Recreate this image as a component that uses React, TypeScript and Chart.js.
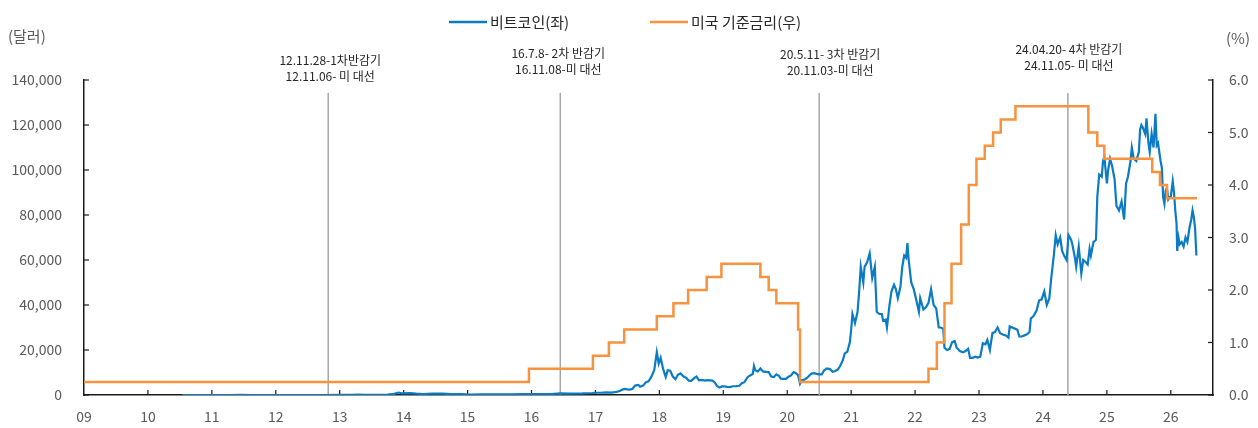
import { useEffect, useRef } from "react";
import { Chart, registerables } from "chart.js";

Chart.register(...registerables);

// ---------- data ----------
const yearTicks = [2009, 2010, 2011, 2012, 2013, 2014, 2015, 2016, 2017, 2018, 2019, 2020, 2021, 2022, 2023, 2024, 2025, 2026];

const btcDates = [
  2010.54, 2010.75, 2010.95, 2011.1, 2011.3, 2011.45, 2011.6, 2011.8, 2012.0, 2012.3, 2012.55, 2012.75,
  2013.0, 2013.2, 2013.28, 2013.4, 2013.6, 2013.75, 2013.85, 2013.92, 2013.97, 2014.1, 2014.2, 2014.3,
  2014.45, 2014.6, 2014.75, 2014.9, 2015.05, 2015.2, 2015.4, 2015.55, 2015.7, 2015.85, 2015.95, 2016.1,
  2016.3, 2016.45, 2016.6, 2016.8, 2016.95,
  2017.0, 2017.08, 2017.17, 2017.25, 2017.33, 2017.38, 2017.42, 2017.46, 2017.5, 2017.54, 2017.58, 2017.62,
  2017.67, 2017.7, 2017.75, 2017.79, 2017.83, 2017.87, 2017.92, 2017.96, 2017.99,
  2018.02, 2018.06, 2018.1, 2018.13, 2018.17, 2018.21, 2018.25, 2018.29, 2018.33, 2018.38, 2018.42, 2018.46,
  2018.5, 2018.54, 2018.58, 2018.62, 2018.67, 2018.71, 2018.75, 2018.79, 2018.83, 2018.87, 2018.9, 2018.94, 2018.98,
  2019.02, 2019.06, 2019.1, 2019.15, 2019.2, 2019.25, 2019.29, 2019.33, 2019.38, 2019.42, 2019.46, 2019.48,
  2019.5, 2019.54, 2019.58, 2019.62, 2019.67, 2019.71, 2019.75, 2019.79, 2019.83, 2019.87, 2019.9, 2019.94, 2019.98,
  2020.02, 2020.06, 2020.1, 2020.13, 2020.17, 2020.2, 2020.23, 2020.27, 2020.31, 2020.35, 2020.38, 2020.42,
  2020.46, 2020.5, 2020.54, 2020.58, 2020.62, 2020.67, 2020.71, 2020.75, 2020.79, 2020.83, 2020.87, 2020.9,
  2020.94, 2020.98,
  2021.0, 2021.02, 2021.06, 2021.1, 2021.13, 2021.15, 2021.19, 2021.21, 2021.25, 2021.29, 2021.33, 2021.37,
  2021.38, 2021.4, 2021.44, 2021.48, 2021.5, 2021.54, 2021.56, 2021.6, 2021.63, 2021.67, 2021.7, 2021.73,
  2021.77, 2021.8, 2021.83, 2021.86, 2021.88, 2021.9, 2021.94, 2021.98,
  2022.02, 2022.06, 2022.08, 2022.13, 2022.17, 2022.21, 2022.25, 2022.29, 2022.33, 2022.37, 2022.4, 2022.44,
  2022.46, 2022.5, 2022.54, 2022.58, 2022.62, 2022.65, 2022.7, 2022.75, 2022.79, 2022.83, 2022.86, 2022.9,
  2022.94, 2022.98,
  2023.02, 2023.06, 2023.1, 2023.13, 2023.17, 2023.21, 2023.25, 2023.29, 2023.33, 2023.38, 2023.42, 2023.46,
  2023.48, 2023.52, 2023.56, 2023.6, 2023.63, 2023.67, 2023.71, 2023.75, 2023.79, 2023.81, 2023.85, 2023.9,
  2023.94, 2023.98,
  2024.02, 2024.06, 2024.1, 2024.13, 2024.17, 2024.2, 2024.23, 2024.27, 2024.3, 2024.33, 2024.37, 2024.4,
  2024.44, 2024.46, 2024.5, 2024.52, 2024.56, 2024.6, 2024.63, 2024.67, 2024.7, 2024.73, 2024.75, 2024.79,
  2024.83, 2024.85, 2024.88, 2024.92, 2024.94, 2024.96,
  2025.0, 2025.02, 2025.05, 2025.08, 2025.12, 2025.15, 2025.19, 2025.23, 2025.27, 2025.3, 2025.33, 2025.37,
  2025.39, 2025.42, 2025.46, 2025.5, 2025.52, 2025.54, 2025.56, 2025.6, 2025.62, 2025.65, 2025.67, 2025.7,
  2025.73, 2025.76, 2025.78, 2025.8, 2025.82, 2025.84, 2025.86, 2025.88, 2025.9, 2025.92, 2025.94, 2025.96,
  2025.98,
  2026.0, 2026.03, 2026.05, 2026.07, 2026.09, 2026.1, 2026.12, 2026.14, 2026.17, 2026.2, 2026.23, 2026.26,
  2026.29, 2026.32, 2026.34, 2026.36, 2026.38, 2026.4,
];

const btcPrices = [
  0.06, 0.1, 0.3, 1, 3.5, 17, 10, 3, 5.5, 5, 9, 11,
  13.5, 47, 140, 115, 100, 135, 500, 1100, 750, 820, 600, 450,
  640, 580, 400, 370, 220, 270, 240, 285, 235, 380, 440, 400,
  450, 720, 600, 700, 900,
  1000, 1000, 1200, 1100, 1400, 1800, 2400, 2700, 2500, 2400, 2800, 4200,
  4500, 3700, 4300, 5700, 6100, 7800, 11000, 19000, 14000,
  16500, 11500, 8000, 11000, 10800, 8200, 7000, 9000, 9600, 8200, 7600, 6400,
  6300, 7400, 8200, 6500, 6700, 6400, 6600, 6500, 6400, 5500, 4000, 3300, 3800,
  3800, 3600, 3500, 3900, 3950, 4100, 5200, 5700, 7900, 8700, 9300, 12900,
  11000, 10500, 11800, 10500, 10300, 10200, 8200, 8000, 9200, 8500, 7300, 7200, 7200,
  8100, 8700, 10200, 9800, 8800, 5000, 6700, 6800, 7600, 8800, 9500, 9700,
  9400, 9200, 9200, 11000, 11800, 11500, 10300, 10700, 11300, 13000, 15500, 18500,
  19200, 23500,
  29000, 36000, 32000, 37000, 48000, 57000, 50000, 57000, 59000, 63000, 52000, 57000,
  50000, 37000, 36000, 36000, 33000, 33500, 30000, 40000, 46000, 49000, 47000, 43000,
  48000, 57000, 62000, 61000, 67500, 60000, 50000, 47000,
  42000, 37000, 43000, 38000, 39000, 41000, 47000, 40000, 38500, 30000, 30000, 29500,
  21000, 20000, 20500, 23500, 24000, 21000, 19500, 19000, 19500, 20500, 16500, 16500,
  17000, 16600,
  17000, 23000, 22500, 24500, 20000, 27500, 28000, 30000, 27500, 26800, 26500, 25500,
  30500, 30000, 29500, 29000, 26000, 26000, 26500, 27000, 28000, 34000, 35000, 37500,
  42000, 42500,
  46000, 40000, 43000, 52000, 62000, 71000, 67000, 70000, 64000, 62000, 60000, 71000,
  69000, 67000, 61000, 57000, 66000, 54000, 60000, 59000, 58000, 65000, 62000, 68000,
  69000, 88000, 98000, 97000, 104000, 106000,
  94000, 100000, 105000, 102000, 96000, 84000, 82000, 86000, 78000, 94000, 97000, 104000,
  110000, 105000, 104000, 108000, 118000, 120000, 119000, 116000, 123000, 112000, 108000, 116000,
  110000, 125000, 111000, 112000, 108000, 104000, 101000, 88000, 85000, 91000, 92000, 87000,
  88000,
  88000, 95000, 90000, 82000, 76000, 64000, 70000, 67000, 68000, 66000, 70000, 68000,
  74000, 78000, 82000, 79000, 74000, 62000,
];

// US policy rate (upper bound), value effective from date
const rateDates = [
  2009.0, 2015.96, 2016.96, 2017.21, 2017.45, 2017.96, 2018.22, 2018.45, 2018.74, 2018.97,
  2019.58, 2019.71, 2019.83, 2020.17, 2020.2, 2022.21, 2022.34, 2022.46, 2022.57, 2022.72,
  2022.84, 2022.96, 2023.09, 2023.22, 2023.34, 2023.57, 2024.71, 2024.85, 2024.96, 2025.71,
  2025.83, 2025.94, 2026.41,
];
const rateValues = [
  0.25, 0.5, 0.75, 1.0, 1.25, 1.5, 1.75, 2.0, 2.25, 2.5,
  2.25, 2.0, 1.75, 1.25, 0.25, 0.5, 1.0, 1.75, 2.5, 3.25,
  4.0, 4.5, 4.75, 5.0, 5.25, 5.5, 5.0, 4.75, 4.5, 4.25,
  4.0, 3.75, 3.75,
];

const markerDates = [2012.82, 2016.45, 2020.5, 2024.39];
const markerLine1 = ["12.11.28-1차반감기", "16.7.8- 2차 반감기", "20.5.11- 3차 반감기", "24.04.20- 4차 반감기"];
const markerLine2 = ["12.11.06- 미 대선", "16.11.08-미 대선", "20.11.03-미 대선", "24.11.05- 미 대선"];

const leftTicks = [0, 20000, 40000, 60000, 80000, 100000, 120000, 140000];
const rightTicks = [0, 1, 2, 3, 4, 5, 6];

const seriesNames = ["비트코인(좌)", "미국 기준금리(우)"];

// ---------- styles ----------
const BLUE = "#0B7BC3";
const ORANGE = "#F7923E";
const AXIS = "#1a1a1a";
const TICK_TEXT = "#595959";
const FONT = "'Noto Sans CJK KR', 'Noto Sans', sans-serif";
const labelOffsetX = [2, -2, 11, 1];
const labelTopY = [60, 53, 54, 49];
const MARKER_TOP = 93;

const overlay = {
  id: "overlay",
  beforeDatasetsDraw(chart: any) {
    const { ctx, chartArea, scales } = chart;
    ctx.save();
    ctx.strokeStyle = "#A6A6A6";
    ctx.lineWidth = 1.5;
    markerDates.forEach((d) => {
      const x = scales.x.getPixelForValue(d);
      ctx.beginPath();
      ctx.moveTo(x, MARKER_TOP);
      ctx.lineTo(x, chartArea.bottom);
      ctx.stroke();
    });

    // inward tick marks
    const left = chartArea.left;
    const right = chartArea.right;
    const bottom = chartArea.bottom;
    ctx.strokeStyle = AXIS;
    ctx.lineWidth = 1.2;
    leftTicks.forEach((v) => {
      const y = scales.y.getPixelForValue(v);
      ctx.beginPath();
      ctx.moveTo(left, y);
      ctx.lineTo(left + 5, y);
      ctx.stroke();
    });
    rightTicks.forEach((v) => {
      const y = scales.y1.getPixelForValue(v);
      ctx.beginPath();
      ctx.moveTo(right, y);
      ctx.lineTo(right - 5, y);
      ctx.stroke();
    });
    yearTicks.forEach((v) => {
      const x = scales.x.getPixelForValue(v);
      if (x < left + 1) return;
      ctx.beginPath();
      ctx.moveTo(x, bottom);
      ctx.lineTo(x, bottom - 5);
      ctx.stroke();
    });
    ctx.restore();
  },
  afterDraw(chart: any) {
    const { ctx, scales } = chart;
    ctx.save();
    // annotations
    ctx.fillStyle = "#262626";
    ctx.font = `12px ${FONT}`;
    ctx.textAlign = "center";
    ctx.textBaseline = "middle";
    markerDates.forEach((d, i) => {
      const x = scales.x.getPixelForValue(d) + labelOffsetX[i];
      ctx.fillText(markerLine1[i], x, labelTopY[i]);
      ctx.fillText(markerLine2[i], x, labelTopY[i] + 16.5);
    });

    // axis titles
    ctx.fillStyle = TICK_TEXT;
    ctx.font = `15px ${FONT}`;
    ctx.textAlign = "left";
    ctx.fillText("(달러)", 8, 36);
    ctx.fillText("(%)", 1226, 38);

    // legend
    const legend = [
      { color: BLUE, x: 449, text: seriesNames[0] },
      { color: ORANGE, x: 650, text: seriesNames[1] },
    ];
    legend.forEach((l) => {
      ctx.strokeStyle = l.color;
      ctx.lineWidth = 2.5;
      ctx.beginPath();
      ctx.moveTo(l.x, 22);
      ctx.lineTo(l.x + 38, 22);
      ctx.stroke();
      ctx.fillStyle = "#262626";
      ctx.font = `15px ${FONT}`;
      ctx.fillText(l.text, l.x + 41, 22);
    });
    ctx.restore();
  },
};

export default function App() {
  const ref = useRef<HTMLCanvasElement | null>(null);
  useEffect(() => {
    if (!ref.current) return;
    const btcData = btcDates.map((d, i) => ({ x: d, y: btcPrices[i] }));
    const rateData = rateDates.map((d, i) => ({ x: d, y: rateValues[i] }));
    const axisBorder = { display: true, color: AXIS, width: 1.5 };
    const noGrid = { display: false, drawTicks: false };
    const chart = new Chart(ref.current, {
      type: "line",
      data: {
        datasets: [
          {
            label: seriesNames[1],
            data: rateData,
            yAxisID: "y1",
            borderColor: ORANGE,
            borderWidth: 2.5,
            stepped: "before",
            pointRadius: 0,
            fill: false,
          },
          {
            label: seriesNames[0],
            data: btcData,
            yAxisID: "y",
            borderColor: BLUE,
            borderWidth: 2.2,
            pointRadius: 0,
            tension: 0,
            fill: false,
          },
        ],
      },
      options: {
        animation: false,
        responsive: false,
        devicePixelRatio: 1,
        layout: { padding: { top: 80, left: 0, right: 0, bottom: 0 } },
        plugins: { legend: { display: false }, tooltip: { enabled: false } },
        scales: {
          x: {
            type: "linear",
            min: 2009,
            max: 2026.66,
            grid: noGrid,
            border: axisBorder,
            afterBuildTicks: (s: any) => {
              s.ticks = yearTicks.map((v) => ({ value: v }));
            },
            afterFit: (s: any) => {
              s.height = 33;
            },
            ticks: {
              autoSkip: false,
              maxRotation: 0,
              padding: 13,
              color: TICK_TEXT,
              font: { family: FONT, size: 14 },
              callback: (v: any) => String(Number(v) % 100).padStart(2, "0"),
            },
          },
          y: {
            position: "left",
            min: 0,
            max: 140000,
            grid: noGrid,
            border: axisBorder,
            afterBuildTicks: (s: any) => {
              s.ticks = leftTicks.map((v) => ({ value: v }));
            },
            afterFit: (s: any) => {
              s.width = 84;
            },
            ticks: {
              padding: 22,
              color: TICK_TEXT,
              font: { family: FONT, size: 14 },
              callback: (v: any) => Number(v).toLocaleString("en-US"),
            },
          },
          y1: {
            position: "right",
            min: 0,
            max: 6,
            grid: noGrid,
            border: axisBorder,
            afterBuildTicks: (s: any) => {
              s.ticks = rightTicks.map((v) => ({ value: v }));
            },
            afterFit: (s: any) => {
              s.width = 45;
            },
            ticks: {
              padding: 16,
              color: TICK_TEXT,
              font: { family: FONT, size: 14 },
              callback: (v: any) => Number(v).toFixed(1),
            },
          },
        },
      },
      plugins: [overlay],
    });
    return () => chart.destroy();
  }, []);
  return (
    <div style={{ position: "fixed", left: 0, top: 0, width: 1258, height: 428, background: "#fff" }}>
      <canvas ref={ref} width={1258} height={428} style={{ width: 1258, height: 428, display: "block" }} />
    </div>
  );
}
